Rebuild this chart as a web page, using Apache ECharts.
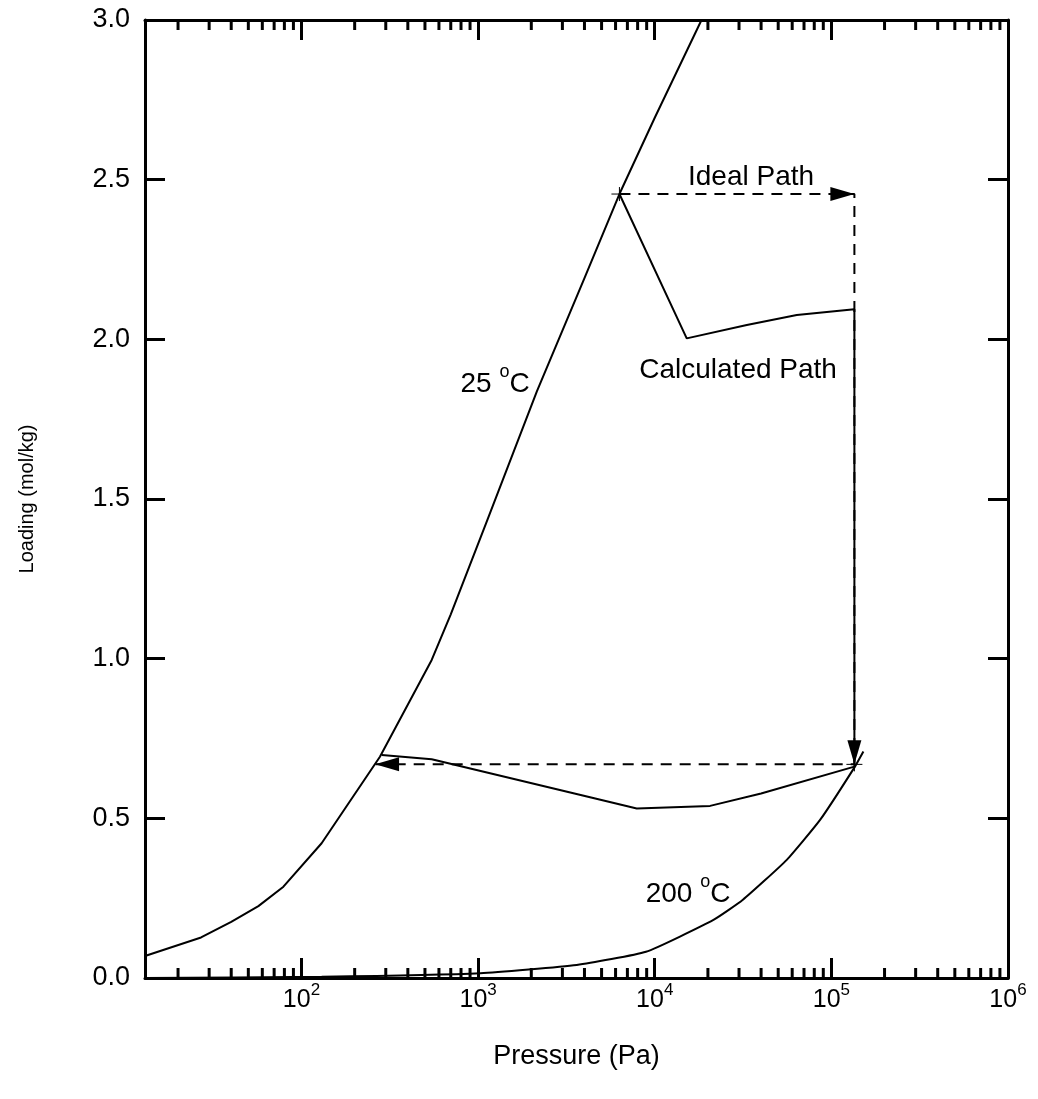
<!DOCTYPE html>
<html>
<head>
<meta charset="utf-8">
<title>Loading vs Pressure</title>
<script src="https://cdn.jsdelivr.net/npm/echarts@6/dist/echarts.min.js"></script>
<style>
  html, body { margin: 0; padding: 0; background: #fff; }
  #chart { width: 1038px; height: 1099px; }
</style>
</head>
<body>
<div id="chart"></div>
<script>
// isotherms (pressure in Pa, loading in mol/kg)
var iso25P = [13, 27, 40, 57, 79, 130, 278, 546, 700, 1120, 2148, 4000, 6310, 10000, 18400, 25000];
var iso25Q = [0.069, 0.127, 0.176, 0.225, 0.286, 0.422, 0.693, 0.996, 1.139, 1.43, 1.836, 2.192, 2.455, 2.694, 3.0, 3.15];
var iso200P = [13, 130, 1030, 3617, 8915, 21500, 31550, 55900, 86300, 136000, 151800];
var iso200Q = [0, 0.004, 0.015, 0.041, 0.082, 0.182, 0.245, 0.37, 0.495, 0.662, 0.709];

// calculated path (solid) and ideal path (dashed)
var calcP = [6310, 15170, 33200, 63700, 135000, 135000, 40000, 20570, 7911, 4303, 546, 285];
var calcQ = [2.455, 2.003, 2.045, 2.076, 2.094, 0.662, 0.578, 0.539, 0.531, 0.566, 0.685, 0.698];
var idealP = [6310, 135000, 135000, 261];
var idealQ = [2.455, 2.455, 0.669, 0.669];

// arrow heads: [pressure, loading, direction in degrees]
var arrowTips = [[135000, 2.455, 0], [135000, 0.669, 270], [261, 0.669, 180]];
var crossMarks = [[6310, 2.455], [135000, 0.669]];

// text notes
var notes = [
  { name: 'Ideal Path', value: [35100, 2.509] },
  { name: 'Calculated Path', value: [29630, 1.904] },
  { name: '{t|25 }{s|o}{t|C}', value: [1247, 1.879] },
  { name: '{t|200 }{s|o}{t|C}', value: [15440, 0.282] }
];

var minorTicks = [];
for (var e = 1; e < 6; e++) {
  for (var k = 2; k < 10; k++) {
    var v = k * Math.pow(10, e);
    if (v > 13) minorTicks.push(v);
  }
}

function zip(a, b) {
  return a.map(function (x, i) { return [x, b[i]]; });
}

var FONT = 'Liberation Sans, Arial, Helvetica, sans-serif';
var black = '#000';

var chart = echarts.init(document.getElementById('chart'));

var xBase = {
  type: 'log',
  logBase: 10,
  min: 13,
  max: 1000000,
  axisLine: { show: true, onZero: false, lineStyle: { color: black, width: 3 } },
  axisTick: { show: true, inside: true, length: 20, lineStyle: { color: black, width: 3 } },
  splitLine: { show: false }
};
var yBase = {
  type: 'value',
  min: 0,
  max: 3,
  interval: 0.5,
  axisLine: { show: true, lineStyle: { color: black, width: 3 } },
  axisTick: { show: true, inside: true, length: 20, lineStyle: { color: black, width: 3 } },
  splitLine: { show: false }
};

var option = {
  animation: false,
  backgroundColor: '#fff',
  textStyle: { fontFamily: FONT },
  grid: { left: 145, right: 30, top: 20, bottom: 121, containLabel: false },
  xAxis: [
    Object.assign({}, xBase, {
      position: 'bottom',
      name: 'Pressure (Pa)',
      nameLocation: 'middle',
      nameGap: 65,
      nameTextStyle: { fontSize: 27, color: black, fontFamily: FONT },
      axisLabel: {
        showMinLabel: false,
        margin: 4,
        color: black,
        formatter: function (v) {
          return '{b|10}{s|' + Math.round(Math.log10(v)) + '}';
        },
        rich: {
          b: { fontSize: 25, fontFamily: FONT, color: black, lineHeight: 26, padding: [11, 0, 0, 0] },
          s: { fontSize: 17, fontFamily: FONT, color: black, lineHeight: 17, verticalAlign: 'top' }
        }
      }
    }),
    Object.assign({}, xBase, { position: 'top', axisLabel: { show: false } })
  ],
  yAxis: [
    Object.assign({}, yBase, {
      position: 'left',
      name: 'Loading (mol/kg)',
      nameLocation: 'middle',
      nameGap: 108,
      nameTextStyle: { fontSize: 20, color: black, fontFamily: FONT },
      axisLabel: {
        margin: 15,
        fontSize: 27,
        color: black,
        fontFamily: FONT,
        formatter: function (v) { return v.toFixed(1); }
      }
    }),
    Object.assign({}, yBase, { position: 'right', axisLabel: { show: false } })
  ],
  series: [
    {
      name: '25 C', type: 'line', data: zip(iso25P, iso25Q),
      showSymbol: false, symbol: 'none',
      lineStyle: { color: black, width: 2 }
    },
    {
      name: '200 C', type: 'line', data: zip(iso200P, iso200Q),
      showSymbol: false, symbol: 'none', smooth: 0.15,
      lineStyle: { color: black, width: 2 }
    },
    {
      name: 'Ideal Path', type: 'line', data: zip(idealP, idealQ),
      showSymbol: false, symbol: 'none',
      lineStyle: { color: black, width: 2, type: [11, 8] }
    },
    {
      name: 'Calculated Path', type: 'line', data: zip(calcP, calcQ),
      showSymbol: false, symbol: 'none',
      lineStyle: { color: black, width: 2 }
    },
    {
      name: 'arrows', type: 'custom', data: arrowTips,
      renderItem: function (params, api) {
        var p = api.coord([api.value(0), api.value(1)]);
        var ang = api.value(2) * Math.PI / 180;
        var len = 24, half = 7;
        var dx = Math.cos(ang), dy = -Math.sin(ang);
        var bx = p[0] - dx * len, by = p[1] - dy * len;
        var nx = -dy, ny = dx;
        return {
          type: 'polygon',
          shape: { points: [[p[0], p[1]], [bx + nx * half, by + ny * half], [bx - nx * half, by - ny * half]] },
          style: { fill: black }
        };
      }
    },
    {
      name: 'marks', type: 'custom', data: crossMarks,
      renderItem: function (params, api) {
        var p = api.coord([api.value(0), api.value(1)]);
        return {
          type: 'group',
          children: [
            { type: 'line', shape: { x1: p[0] - 8, y1: p[1], x2: p[0] + 8, y2: p[1] }, style: { stroke: black, lineWidth: 1 } },
            { type: 'line', shape: { x1: p[0], y1: p[1] - 7, x2: p[0], y2: p[1] + 7 }, style: { stroke: black, lineWidth: 1 } }
          ]
        };
      }
    },
    {
      name: 'minor ticks', type: 'custom', clip: false,
      data: minorTicks.map(function (v) { return [v, 0]; }),
      renderItem: function (params, api) {
        var v = api.value(0);
        var b = api.coord([v, 0]);
        var t = api.coord([v, 3]);
        return {
          type: 'group',
          children: [
            { type: 'line', shape: { x1: b[0], y1: b[1], x2: b[0], y2: b[1] - 10 }, style: { stroke: black, lineWidth: 3 } },
            { type: 'line', shape: { x1: t[0], y1: t[1], x2: t[0], y2: t[1] + 10 }, style: { stroke: black, lineWidth: 3 } }
          ]
        };
      }
    },
    {
      name: 'notes', type: 'scatter', data: notes,
      symbolSize: 0, silent: true,
      itemStyle: { opacity: 1 },
      label: {
        show: true, position: 'inside', color: black, fontSize: 28, fontFamily: FONT,
        formatter: '{b}',
        rich: {
          t: { fontSize: 28, fontFamily: FONT, color: black, lineHeight: 30, padding: [12, 0, 0, 0] },
          s: { fontSize: 18, fontFamily: FONT, color: black, lineHeight: 18, verticalAlign: 'top' }
        }
      }
    }
  ]
};

chart.setOption(option);
</script>
</body>
</html>
